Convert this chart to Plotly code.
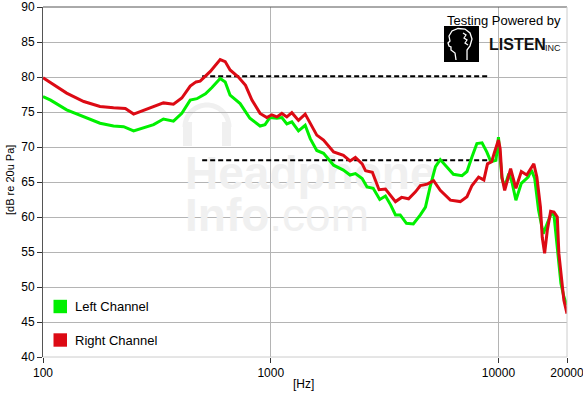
import plotly.graph_objects as go
import math

# ---------------- data ----------------
freq_left = [100, 108, 127, 151, 178, 204, 226, 250, 276, 306, 338, 374, 407, 443, 474, 517, 552, 600,
             631, 663, 734, 810, 898, 944, 991, 1064, 1119, 1177, 1238, 1324, 1417, 1491, 1593, 1706,
             1889, 2085, 2230, 2354, 2521, 2647, 2818, 3012, 3190, 3365, 3530, 3703, 3944, 4229, 4541,
             4781, 5010, 5290, 5552, 5920, 6340, 6920, 7274, 7655, 8041, 8470, 8885, 9260, 9750, 10000,
             10360, 10650, 11100, 11460, 11930, 12600, 13500, 13960, 14430, 15000, 15730, 16390, 17060,
             17530, 18130, 18810, 19380, 20000]
db_left = [77.2, 76.7, 75.3, 74.3, 73.4, 73.0, 72.9, 72.3, 72.7, 73.2, 74.0, 73.7, 74.8, 76.7, 76.9, 77.6,
           78.5, 79.8, 79.3, 77.4, 76.2, 74.1, 73.0, 73.2, 74.2, 74.1, 74.2, 73.3, 73.6, 72.3, 73.1, 71.2,
           69.5, 69.1, 67.4, 66.7, 66.0, 66.2, 65.5, 64.3, 64.1, 62.5, 63.0, 61.7, 60.3, 60.3, 59.1, 59.0,
           60.3, 61.4, 64.3, 67.2, 68.2, 67.2, 66.1, 65.9, 66.5, 68.6, 70.5, 70.6, 69.3, 67.9, 68.1, 71.4,
           65.5, 64.3, 66.2, 65.0, 62.4, 64.8, 65.7, 66.7, 65.5, 61.0, 57.6, 59.1, 60.5, 60.3, 55.7, 50.5,
           48.6, 47.4]

freq_right = [100, 108, 127, 151, 178, 204, 230, 250, 276, 306, 338, 374, 407, 443, 470, 490, 543, 600,
              631, 663, 721, 775, 827, 898, 961, 1011, 1064, 1119, 1177, 1238, 1324, 1417, 1517, 1593,
              1706, 1889, 2085, 2230, 2354, 2521, 2609, 2794, 2990, 3190, 3530, 3756, 4031, 4322, 4540,
              4868, 5192, 5552, 6150, 6797, 7274, 7655, 8180, 8631, 8951, 9338, 9580, 10000, 10170, 10360,
              10650, 10940, 11310, 11930, 12600, 13310, 14300, 14746, 15290, 15570, 15950, 16390, 16950,
              17530, 18130, 18420, 19050, 19380, 20000]
db_right = [79.9, 79.2, 77.7, 76.5, 75.8, 75.6, 75.5, 74.7, 75.2, 75.7, 76.3, 76.1, 77.0, 78.7, 79.3, 79.4,
            80.8, 82.5, 82.2, 81.0, 80.0, 78.8, 76.7, 74.8, 74.2, 74.6, 74.3, 74.8, 74.3, 74.9, 73.8, 74.7,
            72.9, 71.7, 71.0, 69.3, 68.8, 68.0, 68.5, 67.6, 66.6, 66.4, 63.9, 64.0, 62.2, 62.8, 62.6, 63.6,
            64.5, 64.7, 65.2, 63.8, 62.4, 62.2, 62.9, 64.5, 65.7, 65.3, 67.6, 67.9, 69.1, 71.0, 69.8, 65.7,
            63.8, 65.2, 66.9, 64.1, 66.5, 66.0, 67.6, 65.7, 61.4, 57.1, 54.8, 58.1, 60.8, 60.7, 60.0, 54.8,
            50.0, 48.1, 46.2]

ref_upper_freq = [500, 9000]
ref_upper_db = [80.1, 80.1]
ref_lower_freq = [500, 9200]
ref_lower_db = [68.1, 68.1]

x_tickvals = [100, 1000, 10000, 20000]
x_ticktext = ["100", "1000", "10000", "20000"]
y_tickvals = [40, 45, 50, 55, 60, 65, 70, 75, 80, 85, 90]

legend_names = ["Left Channel", "Right Channel"]
watermark_lines = ["<b>Headphone</b>", "<b>Info</b>.com"]
GREEN = "#00f000"
RED = "#dc0a14"

# ---------------- layout helpers ----------------
W, H = 583, 395
ML, MR, MT, MB = 43, 16, 7, 38
PW, PH = W - ML - MR, H - MT - MB
XMIN, XMAX = 2.0, math.log10(20000)
YMIN, YMAX = 40, 90


def px(x):
    return (x - ML) / PW


def py(y):
    return 1 - (y - MT) / PH


def pix_to_freq(x):
    return 10 ** (XMIN + px(x) * (XMAX - XMIN))


def pix_to_db(y):
    return YMIN + py(y) * (YMAX - YMIN)


FONT = "Liberation Sans, Arial, sans-serif"
wm = "#f0f0f0"

fig = go.Figure()

# watermark text (drawn first so it sits beneath the curves)
fig.add_trace(go.Scatter(x=[pix_to_freq(185), pix_to_freq(185)], y=[pix_to_db(177), pix_to_db(219)],
                         mode="text", text=watermark_lines, textposition="middle right",
                         textfont=dict(family=FONT, size=46, color=wm), hoverinfo="skip"))

fig.add_trace(go.Scatter(x=ref_upper_freq, y=ref_upper_db, mode="lines",
                         line=dict(color="black", width=2, dash="5px,3px"), hoverinfo="skip"))
fig.add_trace(go.Scatter(x=ref_lower_freq, y=ref_lower_db, mode="lines",
                         line=dict(color="black", width=2, dash="5px,3px"), hoverinfo="skip"))
fig.add_trace(go.Scatter(x=freq_left, y=db_left, mode="lines", name=legend_names[0],
                         line=dict(color=GREEN, width=3)))
fig.add_trace(go.Scatter(x=freq_right, y=db_right, mode="lines", name=legend_names[1],
                         line=dict(color=RED, width=3)))

shapes = []
annotations = []

# watermark: headphone icon
cx, cy, r = 207, 127, 22
pts = []
for i in range(0, 37):
    a = math.pi - math.pi * i / 36
    pts.append((cx + r * math.cos(a), cy - r * math.sin(a)))
path = "M " + " L ".join(f"{px(x):.4f},{py(y):.4f}" for x, y in pts)
shapes.append(dict(type="path", xref="paper", yref="paper", path=path,
                   line=dict(color=wm, width=5), layer="below"))
for x0, x1 in [(183, 192), (222, 231)]:
    shapes.append(dict(type="rect", xref="paper", yref="paper", x0=px(x0), x1=px(x1),
                       y0=py(146), y1=py(122), fillcolor=wm, line=dict(width=0), layer="below"))

# borders
shapes.append(dict(type="line", xref="paper", yref="paper", x0=0, x1=1, y0=1, y1=1,
                   line=dict(color="#555555", width=1)))
shapes.append(dict(type="line", xref="paper", yref="paper", x0=1, x1=1, y0=0, y1=1,
                   line=dict(color="#cccccc", width=1)))
shapes.append(dict(type="line", xref="paper", yref="paper", x0=0, x1=1, y0=0, y1=0,
                   line=dict(color="#cccccc", width=1)))

# legend
for i, (name, col, yc) in enumerate([(legend_names[0], GREEN, 306.5), (legend_names[1], RED, 340)]):
    shapes.append(dict(type="rect", xref="paper", yref="paper", x0=px(53.5), x1=px(67),
                       y0=py(yc + 6.7), y1=py(yc - 6.7), fillcolor=col, line=dict(width=0)))
    annotations.append(dict(xref="paper", yref="paper", x=px(73), y=py(yc), xanchor="left",
                            yanchor="middle", text=name, showarrow=False,
                            font=dict(family=FONT, size=13, color="black")))

# logo
annotations.append(dict(xref="paper", yref="paper", x=px(504), y=py(20), xanchor="center",
                        yanchor="middle", text="Testing Powered by", showarrow=False,
                        font=dict(family=FONT, size=13, color="black")))
shapes.append(dict(type="rect", xref="paper", yref="paper", x0=px(444), x1=px(479),
                   y0=py(62), y1=py(26), fillcolor="black", line=dict(width=0)))
head = [(456, 60), (455, 53), (451, 50), (451, 47), (449, 46), (448, 43), (450, 41), (449, 36),
        (452, 31), (458, 28.5), (465, 29), (470, 33), (472, 39), (470, 46), (467, 50), (467, 60)]
path = "M " + " L ".join(f"{px(x):.4f},{py(y):.4f}" for x, y in head)
shapes.append(dict(type="path", xref="paper", yref="paper", path=path,
                   line=dict(color="white", width=1.3)))
brain = [(463, 33), (466, 35), (464, 38), (467, 40), (465, 43), (468, 45)]
path = "M " + " L ".join(f"{px(x):.4f},{py(y):.4f}" for x, y in brain)
shapes.append(dict(type="path", xref="paper", yref="paper", path=path,
                   line=dict(color="white", width=1.2)))
annotations.append(dict(xref="paper", yref="paper", x=px(487), y=py(45), xanchor="left",
                        yanchor="middle", text="<b>LISTEN</b>", showarrow=False,
                        font=dict(family=FONT, size=16, color="#111111")))
annotations.append(dict(xref="paper", yref="paper", x=px(543), y=py(48), xanchor="left",
                        yanchor="middle", text="INC", showarrow=False,
                        font=dict(family=FONT, size=9, color="#111111")))

# axis titles
annotations.append(dict(xref="paper", yref="paper", x=px(10), y=py(180), xanchor="center",
                        yanchor="middle", text="[dB re 20u Pa]", textangle=-90, showarrow=False,
                        font=dict(family=FONT, size=11, color="black")))
annotations.append(dict(xref="paper", yref="paper", x=px(303), y=py(384), xanchor="center",
                        yanchor="middle", text="[Hz]", showarrow=False,
                        font=dict(family=FONT, size=12, color="black")))

fig.update_layout(
    width=W, height=H,
    margin=dict(l=ML, r=MR, t=MT, b=MB, autoexpand=False),
    plot_bgcolor="white", paper_bgcolor="white",
    showlegend=False,
    shapes=shapes, annotations=annotations,
    xaxis=dict(type="log", range=[XMIN, XMAX], tickvals=x_tickvals, ticktext=x_ticktext,
               showgrid=True, gridcolor="#b4b4b4", gridwidth=1, ticks="outside", ticklen=5,
               tickcolor="#333333", showline=False, zeroline=False, automargin=False,
               ticklabeloverflow="allow",
               tickfont=dict(family=FONT, size=12, color="black")),
    yaxis=dict(range=[YMIN, YMAX], tickvals=y_tickvals, showgrid=True, gridcolor="#b4b4b4", gridwidth=1,
               ticks="outside", ticklen=5, tickcolor="#333333", showline=True, linecolor="#555555",
               linewidth=1, zeroline=False, automargin=False,
               tickfont=dict(family=FONT, size=12, color="black")),
)

fig.write_html("out.html", config={"displayModeBar": False},
               post_script="document.body.style.margin='0';")
